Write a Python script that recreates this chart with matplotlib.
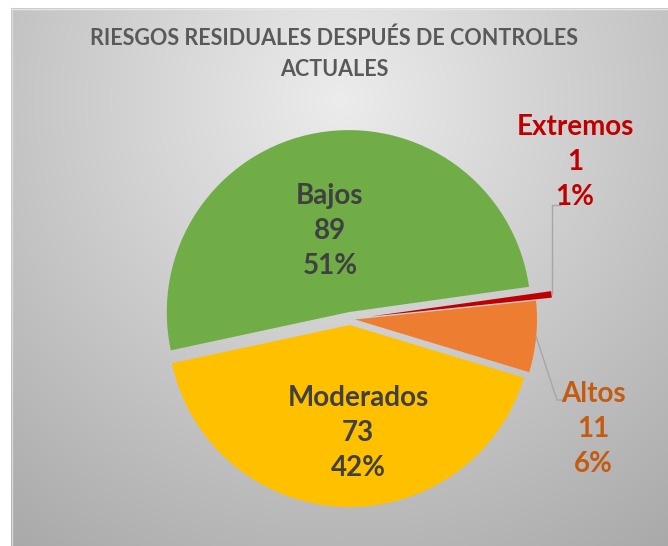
import matplotlib.pyplot as plt
import matplotlib.lines as mlines
import numpy as np

categories = ['Extremos', 'Altos', 'Moderados', 'Bajos']
values = [1, 11, 73, 89]
colors = ['#C00000', '#ED7D31', '#FFC000', '#70AD47']
title = 'RIESGOS RESIDUALES DESPUÉS DE CONTROLES\nACTUALES'

W, H = 668, 546
plt.rcParams['font.family'] = ['Lato', 'DejaVu Sans']

fig = plt.figure(figsize=(W / 100, H / 100), dpi=100)
fig.patch.set_facecolor('white')

# background panel with radial grey gradient
bg = fig.add_axes([0, 0, 1, 1])
bg.set_xlim(0, W)
bg.set_ylim(H, 0)
bg.axis('off')
yy, xx = np.mgrid[0:H, 0:W]
dist = np.hypot(xx - 340, yy - 100)
shade = np.clip(236 - 0.121 * dist, 160, 240) / 255.0
img = np.dstack([shade, shade, shade])
img[:8, :, :] = 1.0
img[:, :11, :] = 1.0
bg.imshow(img, extent=(0, W, H, 0), interpolation='bilinear', aspect='auto')
bg.plot([11.5, 11.5], [8, H], color='#d9d9d9', lw=1)
bg.plot([11.5, W], [8.5, 8.5], color='#e6e6e6', lw=1)

# pie in pixel coordinates (y up)
ax = fig.add_axes([0, 0, 1, 1])
ax.set_xlim(0, W)
ax.set_ylim(0, H)
ax.axis('off')
ax.patch.set_alpha(0)

cx, cy, r = 350, H - 319, 182
explode = [21, 5, 6, 7]
start = 8
wedges, _ = ax.pie(values, colors=colors, explode=explode, startangle=start,
                   counterclock=False, radius=r, center=(cx, cy),
                   wedgeprops=dict(linewidth=0))
ax.set_xlim(0, W)
ax.set_ylim(0, H)

total = sum(values)
pct = [round(v / total * 100) for v in values]
labels = [f'{c}\n{v}\n{p}%' for c, v, p in zip(categories, values, pct)]

fig.text(0.5, 1 - 54 / H, title, ha='center', va='center', fontsize=15.5,
         fontweight='bold', color='#595959', linespacing=1.6)

lab_kw = dict(ha='center', va='center', fontsize=20, fontweight='bold', linespacing=1.45)
# inside labels
ax.text(330, H - 231, labels[3], color='#404040', **lab_kw)
ax.text(358, H - 433, labels[2], color='#404040', **lab_kw)
# outside labels
ax.text(575, H - 162, labels[0], color='#C00000', **lab_kw)
ax.text(593, H - 429, labels[1], color='#C55A11', **lab_kw)

# leader lines from wedge edges
def edge_point(i):
    w = wedges[i]
    th = np.deg2rad((w.theta1 + w.theta2) / 2)
    x0, y0 = w.center
    return x0 + r * np.cos(th), y0 + r * np.sin(th)

ex, ey = edge_point(0)
ax.add_line(mlines.Line2D([ex, ex, ex + 8], [ey, H - 205, H - 205], color='#a6a6a6', lw=1))
axp, ayp = edge_point(1)
ax.add_line(mlines.Line2D([axp, 557, 566], [ayp, H - 400, H - 400], color='#a6a6a6', lw=1))

fig.savefig('out.png', dpi=100)
